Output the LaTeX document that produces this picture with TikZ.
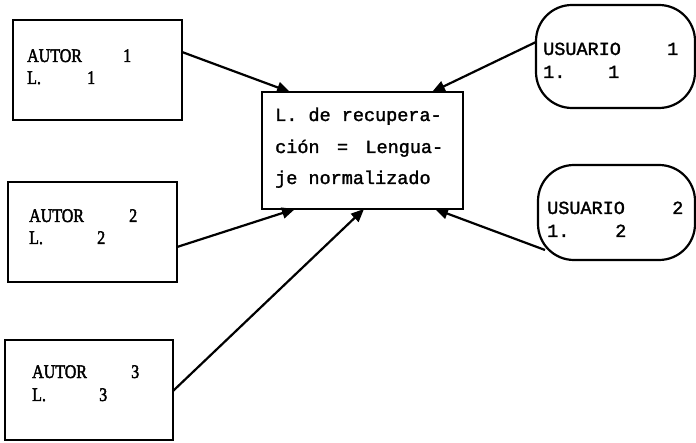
\documentclass[tikz,border=0pt]{standalone}
\usepackage{fontspec}
\usepackage{graphicx}
\usetikzlibrary{arrows.meta}
\newfontfamily\twfont[FakeBold=1.6]{Liberation Mono}
\newfontfamily\srfont[FakeBold=2.4]{Liberation Serif}
\newcommand\tallsr[1]{\scalebox{1}[1.2]{#1}}
\begin{document}
\begin{tikzpicture}[x=1pt,y=-1pt,
  boxline/.style={draw=black,line width=2.2pt,inner sep=0pt,outer sep=0pt},
  sqbox/.style={boxline,rectangle},
  rdbox/.style={boxline,rectangle,rounded corners=36pt},
  autxt/.style={anchor=base west,inner sep=0pt,font=\srfont\fontsize{16}{18}\selectfont},
  twtxt/.style={anchor=base west,inner sep=0pt,font=\twfont\fontsize{18.5}{20}\selectfont},
  conn/.style={line width=2.2pt,-{Triangle[length=13pt,width=11pt]}}
]
\useasboundingbox (0,0) rectangle (696,443);
% boxes
\node[sqbox,minimum width=169pt,minimum height=100pt] (a1) at (97.5,70) {};
\node[sqbox,minimum width=169pt,minimum height=100pt] (a2) at (92.5,232) {};
\node[sqbox,minimum width=168pt,minimum height=100pt] (a3) at (89,390) {};
\node[sqbox,minimum width=201pt,minimum height=117pt] (c) at (362.5,150.5) {};
\node[rdbox,minimum width=159pt,minimum height=103pt] (u1) at (615.5,56.5) {};
\node[rdbox,minimum width=157pt,minimum height=95pt] (u2) at (616.5,212.5) {};
% texts
\node[autxt] (a1l1) at (27,62) {\tallsr{AUTOR}};
\node[autxt] (a1n1) at (123,62) {\tallsr{1}};
\node[autxt] (a1l2) at (27,84) {\tallsr{L.}};
\node[autxt] (a1n2) at (87,84) {\tallsr{1}};
\node[autxt] (a2l1) at (29,222) {\tallsr{AUTOR}};
\node[autxt] (a2n1) at (129,222) {\tallsr{2}};
\node[autxt] (a2l2) at (29,244) {\tallsr{L.}};
\node[autxt] (a2n2) at (97,244) {\tallsr{2}};
\node[autxt] (a3l1) at (32,378) {\tallsr{AUTOR}};
\node[autxt] (a3n1) at (131,378) {\tallsr{3}};
\node[autxt] (a3l2) at (32,401) {\tallsr{L.}};
\node[autxt] (a3n2) at (99,401) {\tallsr{3}};
\node[twtxt] (cl1) at (275,121) {L. de recupera-};
\node[twtxt] (cl2) at (275,153) {\makebox[168pt][s]{ción\hfill=\hfill Lengua-}};
\node[twtxt] (cl3) at (275,184) {je normalizado};
\node[twtxt] (u1l1) at (543,55) {USUARIO};
\node[twtxt] (u1n1) at (667,55) {1};
\node[twtxt] (u1l2) at (543,78) {1.};
\node[twtxt] (u1n2) at (608,78) {1};
\node[twtxt] (u2l1) at (547,214) {USUARIO};
\node[twtxt] (u2n1) at (672,214) {2};
\node[twtxt] (u2l2) at (547,237) {1.};
\node[twtxt] (u2n2) at (615,237) {2};
% connectors
\draw[conn] ([yshift=-32pt]a1.north east) -- ([xshift=28pt]c.north west);
\draw[conn] ([yshift=-65pt]a2.north east) -- ([xshift=33pt]c.south west);
\draw[conn] ([yshift=-51pt]a3.north east) -- ([xshift=102pt]c.south west);
\draw[conn] ([yshift=-37pt]u1.north west) -- ([xshift=-31pt]c.north east);
\draw[conn] ([shift={(7pt,10pt)}]u2.south west) -- ([xshift=-28pt]c.south east);
\end{tikzpicture}
\end{document}
